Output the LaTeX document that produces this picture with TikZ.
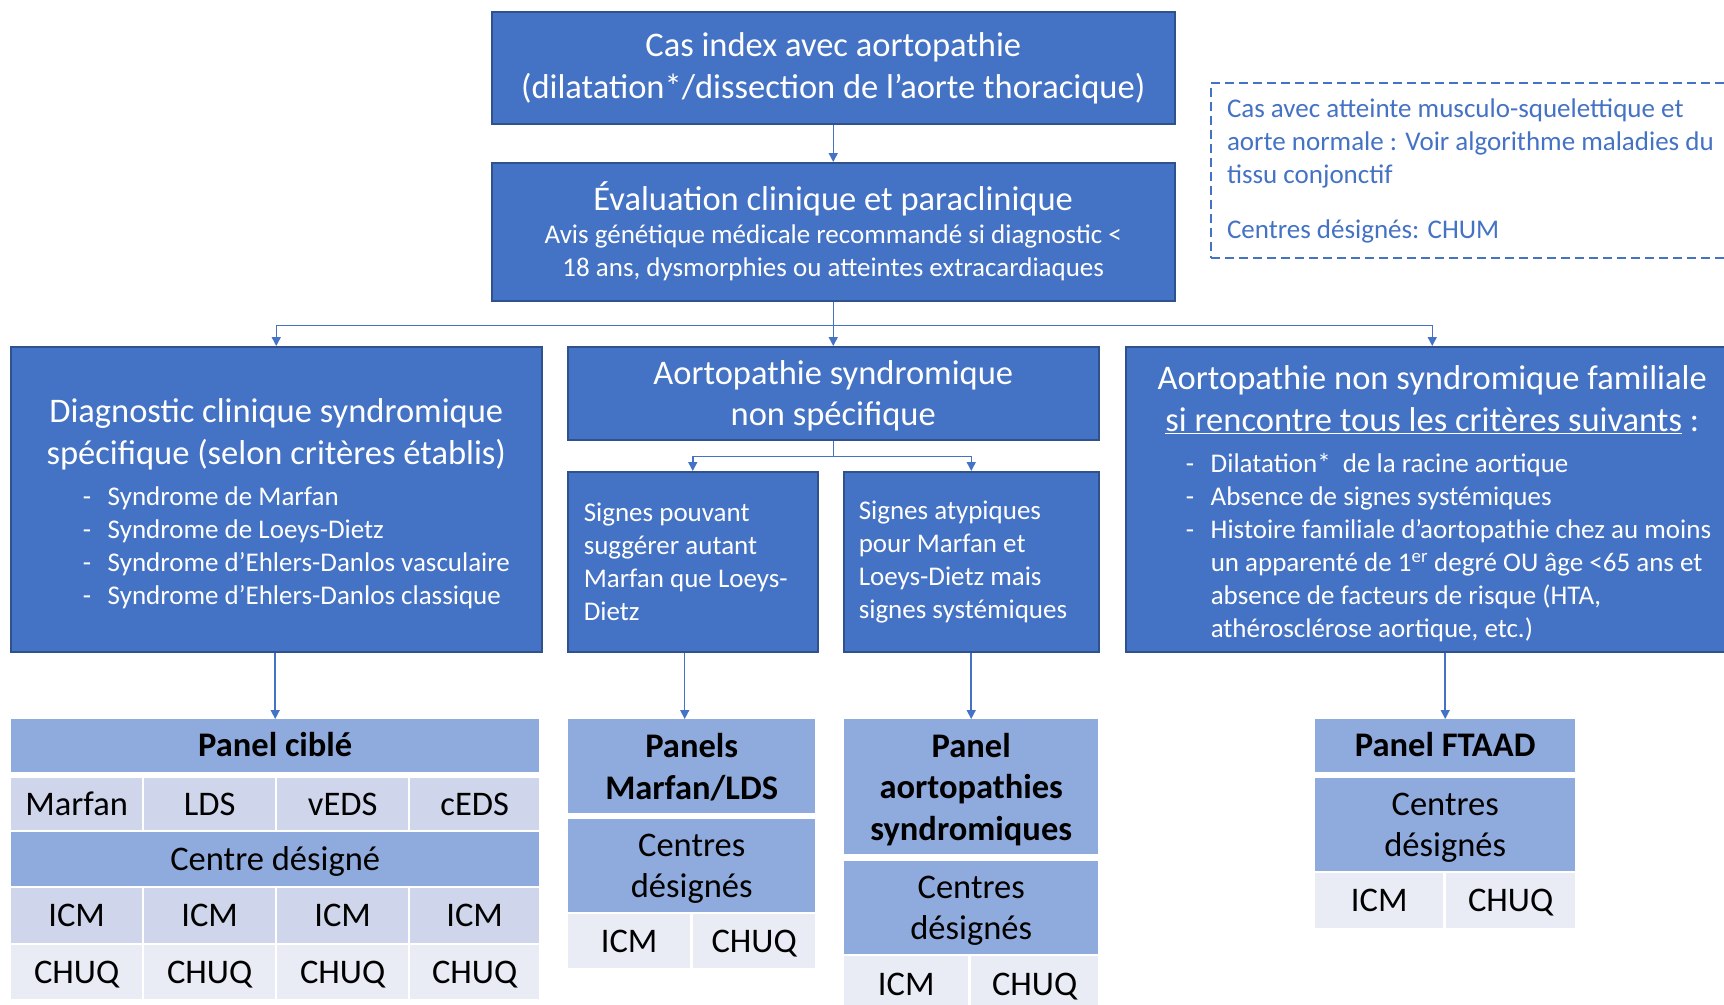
\documentclass[tikz,border=0pt]{standalone}
\usepackage{fontspec}
\setmainfont{Carlito}
\usetikzlibrary{arrows.meta}

\definecolor{boxblue}{HTML}{4472C4}
\definecolor{boxedge}{HTML}{2F528F}
\definecolor{bandblue}{HTML}{8FAADC}
\definecolor{cellmid}{HTML}{CFD5EA}
\definecolor{celllight}{HTML}{E9EBF5}

\newcommand{\bigtxt}{\fontsize{34.5}{41.5}\selectfont}
\newcommand{\smalltxt}{\fontsize{27}{33}\selectfont}
\newcommand{\natsp}{\spaceskip=0pt\xspaceskip=0pt\relax}
\newcommand{\dashitem}[1]{\par\hangindent=25pt\hangafter=1\noindent\makebox[25pt][l]{-}#1}

\tikzset{
  wh/.style 2 args={minimum width=#1pt,minimum height=#2pt},
  bluebox/.style={draw=boxedge,line width=1.5pt,fill=boxblue,text=white,
    anchor=north west,inner sep=0pt},
  link/.style={draw=boxblue,line width=1.5pt,-{Triangle[length=9pt,width=9pt]}},
  cell/.style={anchor=north west,inner sep=0pt,align=center,font=\bigtxt},
  oneline/.style={text height=26pt,text depth=4pt},
  multiline/.style={text depth=0pt},
  bandcell/.style={cell,fill=bandblue},
  headcell/.style={bandcell,font=\bigtxt\bfseries},
  midcell/.style={cell,oneline,fill=cellmid},
  lightcell/.style={cell,oneline,fill=celllight},
  notebox/.style={draw=boxblue,line width=2pt,dash pattern=on 9pt off 5pt,
    text=boxblue,anchor=north west,inner xsep=16pt,inner ysep=0pt,
    font=\smalltxt}
}

\begin{document}
\begin{tikzpicture}[x=1pt,y=-1pt]

\useasboundingbox (0,0) rectangle (1724,1004);
\clip (0,0) rectangle (1724,1004);

% Top boxes
\node[bluebox,wh={683}{112},align=center,font=\bigtxt,text depth=4pt] (cas) at (491,11)
  {Cas index avec aortopathie\\(dilatation*/dissection de l’aorte thoracique)};
\node[bluebox,wh={683}{138},text width=683pt] (eval) at (491,162)
  {\natsp\centering\bigtxt Évaluation clinique et paraclinique\par
   \smalltxt Avis génétique médicale recommandé si diagnostic <\\
   18 ans, dysmorphies ou atteintes extracardiaques\par};

% Side note
\node[notebox,text width=508pt,wh={540}{175}] (note) at (1210,82)
  {\natsp\raggedright\smalltxt
   Cas avec atteinte musculo-squelettique et\\
   aorte normale : Voir algorithme maladies du\\
   tissu conjonctif\\[22pt]
   Centres désignés: CHUM\par};

% Second level
\node[bluebox,wh={531}{305},text width=531pt] (diag) at (10,346)
  {\natsp\centering\bigtxt\rule{0pt}{33pt}Diagnostic clinique syndromique\\
   spécifique (selon critères établis)\par\vspace{8pt}
   \smalltxt\raggedright\leftskip=72pt
   \dashitem{Syndrome de Marfan}
   \dashitem{Syndrome de Loeys-Dietz}
   \dashitem{Syndrome d’Ehlers-Danlos vasculaire}
   \dashitem{Syndrome d’Ehlers-Danlos classique}\par};
\node[bluebox,wh={531}{93},align=center,font=\bigtxt,text depth=0pt] (nonspec) at (567,346)
  {Aortopathie syndromique\\non spécifique};
\node[bluebox,wh={613}{305},text width=613pt] (famil) at (1125,346)
  {\natsp\centering\bigtxt\rule{0pt}{33pt}Aortopathie non syndromique familiale\\
   \underline{si rencontre tous les critères suivants} :\par\vspace{8pt}
   \smalltxt\raggedright\leftskip=60pt
   \dashitem{Dilatation*\ \ de la racine aortique}
   \dashitem{Absence de signes systémiques}
   \dashitem{Histoire familiale d’aortopathie chez au moins\newline
     un apparenté de 1\textsuperscript{er} degré OU âge <65 ans et\newline
     absence de facteurs de risque (HTA,\newline
     athérosclérose aortique, etc.)}\par};

% Third level
\node[bluebox,text width=218pt,inner xsep=16pt,minimum height=180pt,
  font=\smalltxt] (signa) at (567,471)
  {\natsp\raggedright\smalltxt
   Signes pouvant\\suggérer autant\\Marfan que Loeys-\\Dietz\par};
\node[bluebox,text width=225pt,inner xsep=15pt,minimum height=180pt,
  font=\smalltxt] (signb) at (843,471)
  {\natsp\raggedright\smalltxt
   Signes atypiques\\pour Marfan et\\Loeys-Dietz mais\\signes systémiques\par};

% Table 1
\node[headcell,oneline,wh={528}{53}] (t1h) at (11,719) {Panel ciblé};
\node[midcell,wh={131}{52}] (t1a) at (11,778) {Marfan};
\node[midcell,wh={131}{52}] (t1b) at (144,778) {LDS};
\node[midcell,wh={131}{52}] (t1c) at (277,778) {vEDS};
\node[midcell,wh={129}{52}] (t1d) at (410,778) {cEDS};
\node[bandcell,oneline,wh={528}{54}] (t1r) at (11,832) {Centre désigné};
\node[midcell,wh={131}{55}] (t1e) at (11,888) {ICM};
\node[midcell,wh={131}{55}] (t1f) at (144,888) {ICM};
\node[midcell,wh={131}{55}] (t1g) at (277,888) {ICM};
\node[midcell,wh={129}{55}] (t1i) at (410,888) {ICM};
\node[lightcell,wh={131}{54}] (t1j) at (11,945) {CHUQ};
\node[lightcell,wh={131}{54}] (t1k) at (144,945) {CHUQ};
\node[lightcell,wh={131}{54}] (t1l) at (277,945) {CHUQ};
\node[lightcell,wh={129}{54}] (t1m) at (410,945) {CHUQ};

% Table 2
\node[headcell,multiline,wh={247}{94}] (t2h) at (568,719) {Panels\\Marfan/LDS};
\node[bandcell,multiline,wh={247}{93}] (t2r) at (568,819) {Centres\\désignés};
\node[lightcell,wh={122}{54}] (t2a) at (568,914) {ICM};
\node[lightcell,wh={122}{54}] (t2b) at (693,914) {CHUQ};

% Table 3
\node[headcell,multiline,wh={254}{135}] (t3h) at (844,719) {Panel\\aortopathies\\syndromiques};
\node[bandcell,multiline,wh={254}{93}] (t3r) at (844,861) {Centres\\désignés};
\node[lightcell,wh={124}{56}] (t3a) at (844,956) {ICM};
\node[lightcell,wh={127}{56}] (t3b) at (971,956) {CHUQ};

% Table 4
\node[headcell,oneline,wh={260}{53}] (t4h) at (1315,719) {Panel FTAAD};
\node[bandcell,multiline,wh={260}{93}] (t4r) at (1315,778) {Centres\\désignés};
\node[lightcell,wh={128}{55}] (t4a) at (1315,873) {ICM};
\node[lightcell,wh={129}{55}] (t4b) at (1446,873) {CHUQ};

% Arrows
\draw[link] (cas) -- (eval);
\draw[link] (eval) -- (nonspec);
\draw[link] (eval.south) -- ++(0,24) -| (diag);
\draw[link] (eval.south) -- ++(0,24) -| (famil);
\draw[link] (nonspec.south) -- ++(0,16) -| (signa);
\draw[link] (nonspec.south) -- ++(0,16) -| (signb);
\draw[link] (t1h.north |- diag.south) -- (t1h);
\draw[link] ([xshift=-7pt]t2h.north |- signa.south) -- ([xshift=-7pt]t2h.north);
\draw[link] (t3h.north |- signb.south) -- (t3h);
\draw[link] (t4h.north |- famil.south) -- (t4h);

\end{tikzpicture}
\end{document}
